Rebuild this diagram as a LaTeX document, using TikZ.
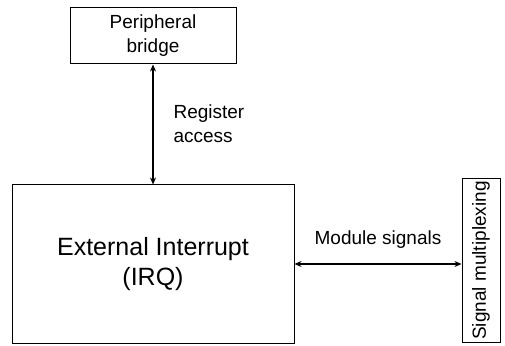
\documentclass[tikz,border=0pt]{standalone}
\usepackage{fontspec}
\setmainfont{Liberation Sans}
\usepackage{tikz}
\usetikzlibrary{positioning,arrows.meta}

\begin{document}
\begin{tikzpicture}[
  x=1pt, y=1pt,
  font=\fontsize{19}{24}\selectfont,
  block/.style={draw, line width=1pt, align=center, inner sep=0pt},
  arrow/.style={{Stealth[length=7pt,width=6pt]}-{Stealth[length=7pt,width=6pt]}, line width=1.2pt}
]
\useasboundingbox (0,0) rectangle (505,345);
\node[block, minimum width=166, minimum height=56] (bridge) at (153,309) {Peripheral\\bridge};
\node[block, minimum width=282, minimum height=158, font=\fontsize{25}{30}\selectfont] (irq) at (153,81) {External Interrupt\\(IRQ)};
\node[block, minimum width=163, minimum height=38, rotate=90] (mux) at (481,84.5) {Signal multiplexing};

\draw[arrow] (bridge.south) -- (irq.north);
\draw[arrow] (irq.east) -- (irq.east -| mux.north);

\node[anchor=west, align=left] (reg) at (170,221) {Register\\access};
\node (mod) at (378,105) {Module signals};
\end{tikzpicture}
\end{document}
